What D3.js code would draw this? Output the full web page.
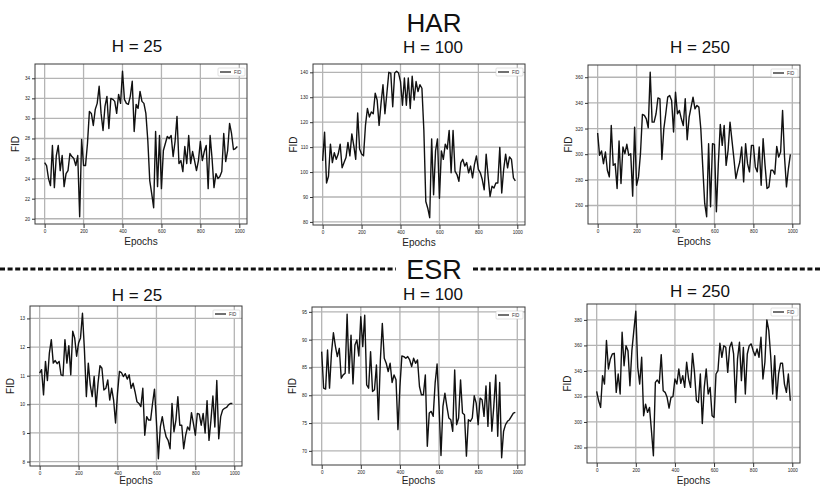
<!DOCTYPE html>
<html>
<head>
<meta charset="utf-8">
<script src="https://cdn.jsdelivr.net/npm/d3@7"></script>
<style>
  body { margin: 0; background: #fff; }
  svg { font-family: "Liberation Sans", Arial, sans-serif; display: block; }
  .tick text { font-size: 4.6px; fill: #222; }
  .tick line { stroke: #333; }
</style>
</head>
<body>
<div id="chart"></div>
<script>
// epochs logged every 10 steps
var epochs = d3.range(0, 1000, 10)
var xTicks = [0, 200, 400, 600, 800, 1000]

// HAR
var harH25 = [25.6, 25.3, 24.0, 23.3, 27.3, 23.1, 26.3, 27.3, 24.8, 26.3,
  23.2, 24.5, 24.8, 26.5, 26.2, 26.0, 25.3, 26.3, 20.2, 27.9,
  25.3, 25.3, 27.5, 30.7, 30.5, 29.3, 30.9, 31.5, 33.2, 30.5,
  28.8, 31.2, 32.2, 29.0, 32.0, 31.9, 31.7, 30.5, 32.4, 31.5,
  34.7, 31.9, 31.5, 31.4, 32.2, 33.7, 28.7, 31.4, 31.0, 32.7,
  31.7, 31.5, 30.5, 27.8, 23.8, 22.5, 21.1, 28.7, 23.2, 28.3,
  23.0, 26.8, 27.5, 28.2, 28.0, 28.3, 26.2, 27.7, 30.2, 25.5,
  25.8, 24.7, 27.2, 25.5, 28.3, 25.5, 26.7, 25.8, 24.8, 25.8,
  27.7, 25.8, 26.7, 27.3, 23.0, 28.3, 26.0, 23.1, 24.5, 24.0,
  24.2, 24.7, 28.5, 25.7, 26.8, 29.5, 28.5, 26.9, 27.0, 27.2]
var harH100 = [104.5, 116.0, 95.6, 98.3, 111.2, 103.8, 107.8, 105.1, 107.2, 111.2,
  101.7, 103.8, 105.8, 111.9, 106.5, 115.3, 110.6, 105.1, 123.7, 109.2,
  107.2, 106.5, 118.7, 125.5, 122.1, 124.1, 123.4, 131.6, 128.9, 118.7,
  127.5, 135.0, 123.4, 131.6, 140.0, 139.7, 126.2, 139.7, 140.4, 139.7,
  136.3, 126.8, 137.7, 126.8, 137.7, 125.5, 138.4, 128.9, 136.3, 132.3,
  135.0, 133.6, 116.7, 88.2, 85.5, 81.7, 113.3, 90.9, 108.5, 113.3,
  89.5, 108.5, 105.1, 111.2, 109.2, 116.7, 99.7, 116.7, 100.4, 99.0,
  96.3, 103.8, 105.1, 102.4, 103.8, 99.7, 102.4, 97.7, 103.1, 106.5,
  101.1, 99.7, 97.0, 92.9, 107.2, 98.3, 90.2, 94.3, 93.6, 95.6,
  95.6, 109.9, 91.6, 101.1, 107.2, 101.7, 106.1, 105.1, 97.7, 96.5]
var harH250 = [316.5, 299.1, 302.5, 292.6, 301.7, 287.5, 282.3, 322.4, 291.3, 292.6,
  273.2, 310.3, 277.1, 305.6, 300.4, 307.7, 299.1, 300.4, 267.3, 321.1,
  275.8, 282.3, 300.4, 331.0, 330.2, 327.6, 320.6, 363.9, 325.0, 325.0,
  331.5, 343.9, 343.2, 295.8, 319.8, 331.5, 344.5, 345.8, 341.9, 317.3,
  348.3, 331.5, 334.1, 327.6, 322.4, 343.2, 311.3, 328.9, 336.7, 344.5,
  335.4, 338.0, 336.7, 319.8, 290.1, 261.6, 251.2, 308.2, 259.0, 308.2,
  307.7, 255.1, 292.6, 323.2, 306.9, 322.4, 291.3, 303.0, 325.0, 310.8,
  296.5, 281.0, 288.0, 293.9, 305.6, 278.4, 308.2, 292.6, 286.2, 306.9,
  306.9, 290.1, 286.2, 305.6, 275.8, 312.1, 291.3, 273.2, 274.5, 287.5,
  287.5, 284.4, 306.1, 297.8, 301.7, 334.1, 297.8, 274.5, 288.8, 299.9]

// ESR
var esrH25 = [11.09, 11.21, 10.33, 11.50, 10.83, 11.79, 12.26, 11.44, 11.53, 11.42,
  11.50, 11.03, 11.00, 12.26, 11.44, 12.05, 11.03, 12.55, 12.32, 11.68,
  12.14, 12.32, 13.18, 11.91, 10.27, 11.44, 10.68, 10.27, 10.97, 9.92,
  10.74, 11.35, 11.26, 10.50, 10.56, 10.85, 10.15, 10.56, 10.15, 9.35,
  10.39, 11.15, 11.11, 10.97, 11.07, 10.88, 11.03, 10.56, 10.74, 10.44,
  10.09, 10.03, 9.92, 10.56, 8.92, 9.57, 9.45, 9.45, 10.03, 10.53,
  9.39, 8.10, 9.21, 9.57, 9.15, 8.86, 8.74, 8.45, 10.03, 9.04,
  9.45, 10.27, 9.27, 9.27, 8.45, 8.92, 9.21, 9.10, 9.71, 9.33,
  8.92, 9.68, 9.66, 9.27, 9.68, 9.00, 10.13, 8.74, 9.45, 10.29,
  9.21, 10.83, 8.80, 9.57, 9.80, 9.86, 9.89, 9.98, 10.03, 10.03]
var esrH100 = [87.84, 81.28, 81.10, 88.14, 81.28, 87.54, 91.24, 88.85, 86.95, 88.44,
  83.07, 83.66, 83.96, 94.58, 83.96, 90.82, 82.05, 89.03, 89.93, 87.06,
  94.11, 88.74, 94.40, 81.87, 81.28, 87.84, 80.68, 80.98, 85.45, 75.61,
  86.35, 92.91, 86.65, 85.75, 84.26, 85.75, 82.29, 83.66, 82.77, 73.82,
  81.57, 87.06, 86.95, 86.65, 86.95, 86.35, 85.16, 86.65, 85.75, 86.35,
  81.57, 80.08, 80.08, 83.66, 70.84, 76.80, 77.10, 76.21, 82.17, 85.63,
  78.00, 69.17, 78.00, 80.38, 78.00, 75.91, 75.61, 73.52, 84.56, 74.71,
  75.91, 82.77, 76.80, 76.50, 69.05, 75.61, 75.31, 75.91, 79.90, 78.59,
  74.71, 79.49, 79.19, 76.21, 81.69, 74.41, 82.29, 73.52, 78.00, 83.66,
  72.63, 82.29, 68.75, 73.52, 74.71, 75.31, 75.61, 76.21, 76.80, 76.92]
var esrH250 = [324.0, 316.6, 311.4, 336.3, 329.7, 363.8, 341.5, 349.4, 353.3, 353.8,
  323.2, 337.6, 321.9, 370.3, 344.1, 359.8, 355.9, 328.4, 355.9, 371.6,
  386.8, 342.8, 329.7, 350.7, 304.9, 314.0, 307.5, 311.4, 293.1, 273.5,
  331.0, 332.9, 330.3, 352.8, 324.5, 323.2, 319.3, 310.9, 319.3, 319.8,
  333.7, 329.7, 341.5, 330.3, 336.3, 327.1, 346.8, 333.7, 327.1, 353.8,
  338.9, 316.6, 315.3, 337.6, 298.8, 327.1, 341.5, 321.9, 327.1, 304.9,
  303.6, 337.6, 340.2, 361.7, 350.7, 359.8, 358.5, 338.9, 358.5, 362.5,
  353.3, 315.3, 349.4, 362.5, 332.4, 358.5, 321.9, 353.3, 359.8, 361.2,
  355.9, 352.0, 357.2, 350.7, 366.4, 333.7, 346.8, 380.0, 371.6, 350.7,
  321.9, 352.0, 318.0, 337.6, 346.0, 346.0, 329.7, 323.2, 337.6, 316.6]

var yTicksHar25 = [20, 22, 24, 26, 28, 30, 32, 34]
var yTicksHar100 = [80, 90, 100, 110, 120, 130, 140]
var yTicksHar250 = [260, 280, 300, 320, 340, 360]
var yTicksEsr25 = [8, 9, 10, 11, 12, 13]
var yTicksEsr100 = [70, 75, 80, 85, 90, 95]
var yTicksEsr250 = [280, 300, 320, 340, 360, 380]

var panels = [
  {title: 'H = 25',  values: harH25,  yTicks: yTicksHar25,  x: 35,  y: 64,  w: 212, h: 160, tx: 137, ty: 52},
  {title: 'H = 100', values: harH100, yTicks: yTicksHar100, x: 313, y: 64,  w: 212, h: 161, tx: 433, ty: 53},
  {title: 'H = 250', values: harH250, yTicks: yTicksHar250, x: 588, y: 65,  w: 212, h: 159, tx: 700, ty: 53},
  {title: 'H = 25',  values: esrH25,  yTicks: yTicksEsr25,  x: 30,  y: 306, w: 212, h: 160, tx: 137, ty: 301},
  {title: 'H = 100', values: esrH100, yTicks: yTicksEsr100, x: 312, y: 307, w: 213, h: 158, tx: 433, ty: 300},
  {title: 'H = 250', values: esrH250, yTicks: yTicksEsr250, x: 587, y: 304, w: 213, h: 159, tx: 700, ty: 297}
]

var W = 821, H = 487
var svg = d3.select('#chart').append('svg').attr('width', W).attr('height', H)

// pad like matplotlib's default 5% margins
function padded(ext) {
  var m = (ext[1] - ext[0]) * 0.05
  return [ext[0] - m, ext[1] + m]
}

panels.forEach(function(p) {
  var g = svg.append('g').attr('transform', 'translate(' + p.x + ',' + p.y + ')')
  var data = p.values.map(function(v, i) { return {epoch: epochs[i], fid: v} })

  var x = d3.scaleLinear().domain(padded(d3.extent(epochs))).range([0, p.w])
  var y = d3.scaleLinear().domain(padded(d3.extent(p.values))).range([p.h, 0])

  // grid
  g.selectAll('line.gx').data(xTicks).join('line')
    .attr('x1', d => x(d)).attr('x2', d => x(d))
    .attr('y1', 0).attr('y2', p.h)
    .attr('stroke', '#b4b4b4').attr('stroke-width', 1.3)
  g.selectAll('line.gy').data(p.yTicks).join('line')
    .attr('y1', d => y(d)).attr('y2', d => y(d))
    .attr('x1', 0).attr('x2', p.w)
    .attr('stroke', '#b4b4b4').attr('stroke-width', 1.3)

  var line = d3.line().x(d => x(d.epoch)).y(d => y(d.fid))
  g.append('path').datum(data)
    .attr('d', line)
    .attr('fill', 'none')
    .attr('stroke', '#111')
    .attr('stroke-width', 1.4)
    .attr('stroke-linejoin', 'round')

  g.append('rect')
    .attr('width', p.w).attr('height', p.h)
    .attr('fill', 'none').attr('stroke', '#3a3a3a').attr('stroke-width', 1)

  var xAxis = g.append('g').attr('transform', 'translate(0,' + p.h + ')')
    .call(d3.axisBottom(x).tickValues(xTicks).tickFormat(d => String(d)).tickSize(4).tickPadding(2))
  var yAxis = g.append('g')
    .call(d3.axisLeft(y).tickValues(p.yTicks).tickFormat(d => String(d)).tickSize(3).tickPadding(2))
  xAxis.select('.domain').remove()
  yAxis.select('.domain').remove()

  // legend
  var lg = g.append('g').attr('transform', 'translate(' + (p.w - 29) + ',4)')
  lg.append('rect').attr('width', 27).attr('height', 8)
    .attr('fill', '#fff').attr('stroke', '#ccc').attr('stroke-width', 0.6).attr('rx', 1)
  lg.append('line').attr('x1', 2).attr('x2', 13).attr('y1', 4).attr('y2', 4)
    .attr('stroke', '#111').attr('stroke-width', 1.2)
  lg.append('text').attr('x', 16).attr('y', 5.6).attr('font-size', 4.5).attr('fill', '#333').text('FID')

  // keep the bottom row's label inside the page
  g.append('text')
    .attr('x', p.w / 2).attr('y', Math.min(p.h + 20.5, H - 3 - p.y))
    .attr('text-anchor', 'middle').attr('font-size', 10).attr('fill', '#222')
    .text('Epochs')
  g.append('text')
    .attr('transform', 'translate(-16,' + (p.h / 2) + ') rotate(-90)')
    .attr('text-anchor', 'middle').attr('font-size', 10).attr('fill', '#222')
    .text('FID')

  svg.append('text')
    .attr('x', p.tx).attr('y', p.ty)
    .attr('text-anchor', 'middle').attr('font-size', 17).attr('fill', '#111')
    .text(p.title)
})

// group headings
svg.append('text').attr('x', 434).attr('y', 32)
  .attr('text-anchor', 'middle').attr('font-size', 26).attr('fill', '#111').text('HAR')
svg.append('text').attr('x', 434).attr('y', 279)
  .attr('text-anchor', 'middle').attr('font-size', 27).attr('fill', '#111').text('ESR')

// dashed separator
var sep = [[0, 396], [473, 821]]
svg.selectAll('line.sep').data(sep).join('line')
  .attr('x1', d => d[0]).attr('x2', d => d[1])
  .attr('y1', 269).attr('y2', 269)
  .attr('stroke', '#111').attr('stroke-width', 3)
  .attr('stroke-dasharray', '5,2.6')
</script>
</body>
</html>
